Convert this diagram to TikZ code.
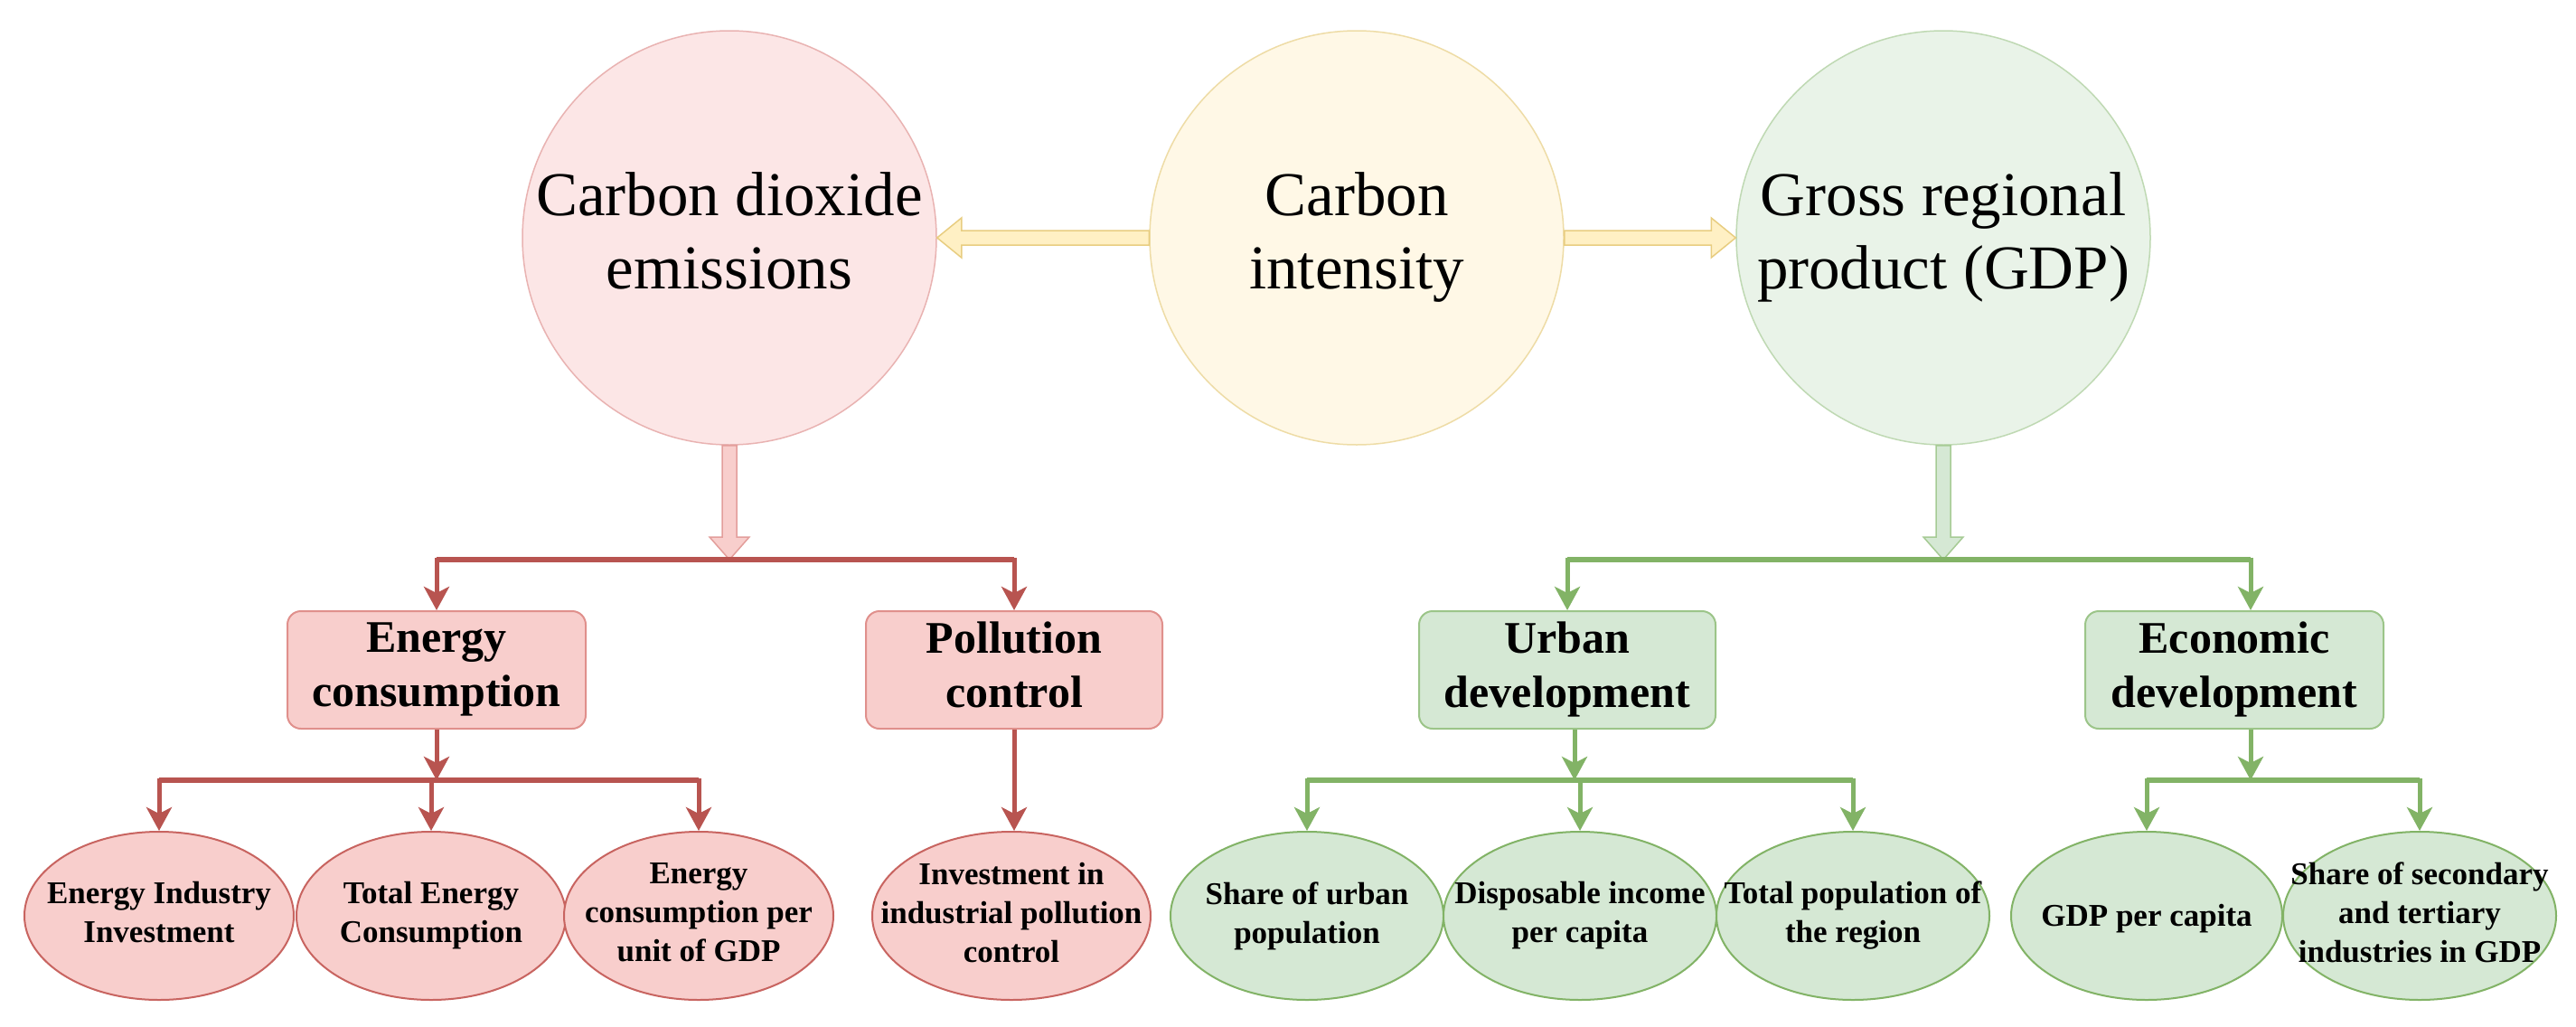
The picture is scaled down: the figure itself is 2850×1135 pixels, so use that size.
\documentclass[tikz,border=0pt]{standalone}
\usepackage{fontspec}
\setmainfont{Liberation Serif}
\usetikzlibrary{shapes.geometric,arrows.meta,calc}
\definecolor{cofill}{HTML}{FCE6E6}
\definecolor{costroke}{HTML}{E9B3B2}
\definecolor{cifill}{HTML}{FFF8E6}
\definecolor{cistroke}{HTML}{EEDCA6}
\definecolor{cgfill}{HTML}{E9F3E8}
\definecolor{cgstroke}{HTML}{BFD9B3}
\definecolor{yfill}{HTML}{FFF0C4}
\definecolor{ystroke}{HTML}{E8CD80}
\definecolor{pfill}{HTML}{F8CECC}
\definecolor{pstroke}{HTML}{E39E9B}
\definecolor{gfill}{HTML}{D5E8D4}
\definecolor{gstroke}{HTML}{A6CB95}
\definecolor{redline}{HTML}{B85450}
\definecolor{redbox}{HTML}{E0908C}
\definecolor{redell}{HTML}{C86460}
\definecolor{greenline}{HTML}{82B366}
\definecolor{greenbox}{HTML}{9CC589}
\newcommand\topstrut{\rule{0pt}{0.891em}}
\newcommand\botstrut{\rule[-0.216em]{0pt}{0.216em}}
\begin{document}
\begin{tikzpicture}[x=1pt,y=-1pt,
  txt/.style={align=center, text=black, execute at begin node=\topstrut, execute at end node=\botstrut},
  bigc/.style={circle, minimum size=458pt, inner sep=0pt, line width=1.5pt, txt, font=\fontsize{69}{81}\selectfont},
  boxr/.style={rectangle, rounded corners=15pt, minimum width=330pt, minimum height=130pt, inner sep=0pt, line width=2pt, txt, font=\fontsize{50}{60}\selectfont\bfseries},
  ell/.style={ellipse, minimum width=298pt, minimum height=186pt, inner sep=0pt, line width=2pt},
  elab/.style={txt, inner sep=0pt, font=\fontsize{35}{43}\selectfont\bfseries},
  redbx/.style={boxr, fill=pfill, draw=redbox},
  grnbx/.style={boxr, fill=gfill, draw=greenbox},
  redel/.style={ell, fill=pfill, draw=redell},
  grnel/.style={ell, fill=gfill, draw=greenline},
  yarr/.style={fill=yfill, draw=ystroke, line width=1.5pt},
  parr/.style={fill=pfill, draw=pstroke, line width=1.5pt},
  garr/.style={fill=gfill, draw=gstroke, line width=1.5pt},
  tipa/.style={-{Stealth[length=26pt,width=28pt,inset=7pt]}},
  rarr/.style={draw=redline, line width=5pt, tipa},
  garrow/.style={draw=greenline, line width=5pt, tipa},
  rbus/.style={draw=redline, line width=6.5pt},
  gbus/.style={draw=greenline, line width=6.5pt}
]
\useasboundingbox[fill=white] (0,0) rectangle (2850,1135);

% top circles
\node[bigc, fill=cofill, draw=costroke] (co) at (807,263) {Carbon dioxide\\emissions};
\node[bigc, fill=cifill, draw=cistroke] (ci) at (1501,263) {Carbon\\intensity};
\node[bigc, fill=cgfill, draw=cgstroke] (cg) at (2150,263) {Gross regional\\product (GDP)};

\coordinate (rhub) at (807,619);
\coordinate (ghub) at (2150,619);

% yellow block arrows
\filldraw[yarr] ($(ci.west)+(0,-8)$) -- ($(co.east)+(27,-8)$) -- ($(co.east)+(27,-22)$) -- (co.east)
  -- ($(co.east)+(27,22)$) -- ($(co.east)+(27,8)$) -- ($(ci.west)+(0,8)$) -- cycle;
\filldraw[yarr] ($(ci.east)+(0,-8)$) -- ($(cg.west)+(-27,-8)$) -- ($(cg.west)+(-27,-22)$) -- (cg.west)
  -- ($(cg.west)+(-27,22)$) -- ($(cg.west)+(-27,8)$) -- ($(ci.east)+(0,8)$) -- cycle;

% down block arrows
\filldraw[parr] ($(co.south)+(-8,0)$) -- ($(rhub)+(-8,-25)$) -- ($(rhub)+(-22,-25)$) -- (rhub)
  -- ($(rhub)+(22,-25)$) -- ($(rhub)+(8,-25)$) -- ($(co.south)+(8,0)$) -- cycle;
\filldraw[garr] ($(cg.south)+(-8,0)$) -- ($(ghub)+(-8,-25)$) -- ($(ghub)+(-22,-25)$) -- (ghub)
  -- ($(ghub)+(22,-25)$) -- ($(ghub)+(8,-25)$) -- ($(cg.south)+(8,0)$) -- cycle;

% second level boxes
\node[redbx] (ec) at (483,741) {Energy\\consumption};
\node[redbx, minimum width=328pt] (pc) at (1122,741) {Pollution\\control};
\node[grnbx, minimum width=328pt] (ud) at (1734,741) {Urban\\development};
\node[grnbx] (ed) at (2472,741) {Economic\\development};

% third level ellipses
\node[redel, label={[elab]center:Energy Industry\\Investment}] (e1) at (176,1013) {};
\node[redel, label={[elab]center:Total Energy\\Consumption}] (e2) at (477,1013) {};
\node[redel, label={[elab]center:Energy\\consumption per\\unit of GDP}] (e3) at (773,1013) {};
\node[redel, minimum width=308pt, label={[elab]center:Investment in\\industrial pollution\\control}] (pi) at (1119,1013) {};
\node[grnel, minimum width=302pt, label={[elab]center:Share of urban\\population}] (g1) at (1446,1013) {};
\node[grnel, minimum width=302pt, label={[elab]center:Disposable income\\per capita}] (g2) at (1748,1013) {};
\node[grnel, minimum width=302pt, label={[elab]center:Total population of\\the region}] (g3) at (2050,1013) {};
\node[grnel, minimum width=300pt, label={[elab]center:GDP per capita}] (g4) at (2375,1013) {};
\node[grnel, minimum width=302pt, label={[elab]center:Share of secondary\\and tertiary\\industries in GDP}] (g5) at (2677,1013) {};

\coordinate (ehub) at ($(ec.south)+(0,56)$);
\coordinate (uhub) at ($(ud.south)+(8,56)$);
\coordinate (xhub) at ($(ed.south)+(18,56)$);

% red connectors
\draw[rbus] (rhub -| ec.north) -- (rhub -| pc.north);
\draw[rarr] (rhub) -| (ec.north);
\draw[rarr] (rhub) -| (pc.north);
\draw[rarr] (ec) -- (ehub);
\draw[rbus] (ehub -| e1.north) -- (ehub -| e3.north);
\draw[rarr] (ehub) -| (e1.north);
\draw[rarr] (ehub) -| (e2.north);
\draw[rarr] (ehub) -| (e3.north);
\draw[rarr] (pc.south) -- (pc.south |- pi.north);

% green connectors
\draw[gbus] (ghub -| ud.north) -- (ghub -| xhub);
\draw[garrow] (ghub) -| (ud.north);
\draw[garrow] (ghub) -| ([xshift=18pt]ed.north);
\draw[garrow] (ud.south -| uhub) -- (uhub);
\draw[gbus] (uhub -| g1.north) -- (uhub -| g3.north);
\draw[garrow] (uhub) -| (g1.north);
\draw[garrow] (uhub) -| (g2.north);
\draw[garrow] (uhub) -| (g3.north);
\draw[garrow] (ed.south -| xhub) -- (xhub);
\draw[gbus] (xhub -| g4.north) -- (xhub -| g5.north);
\draw[garrow] (xhub) -| (g4.north);
\draw[garrow] (xhub) -| (g5.north);
\end{tikzpicture}
\end{document}
